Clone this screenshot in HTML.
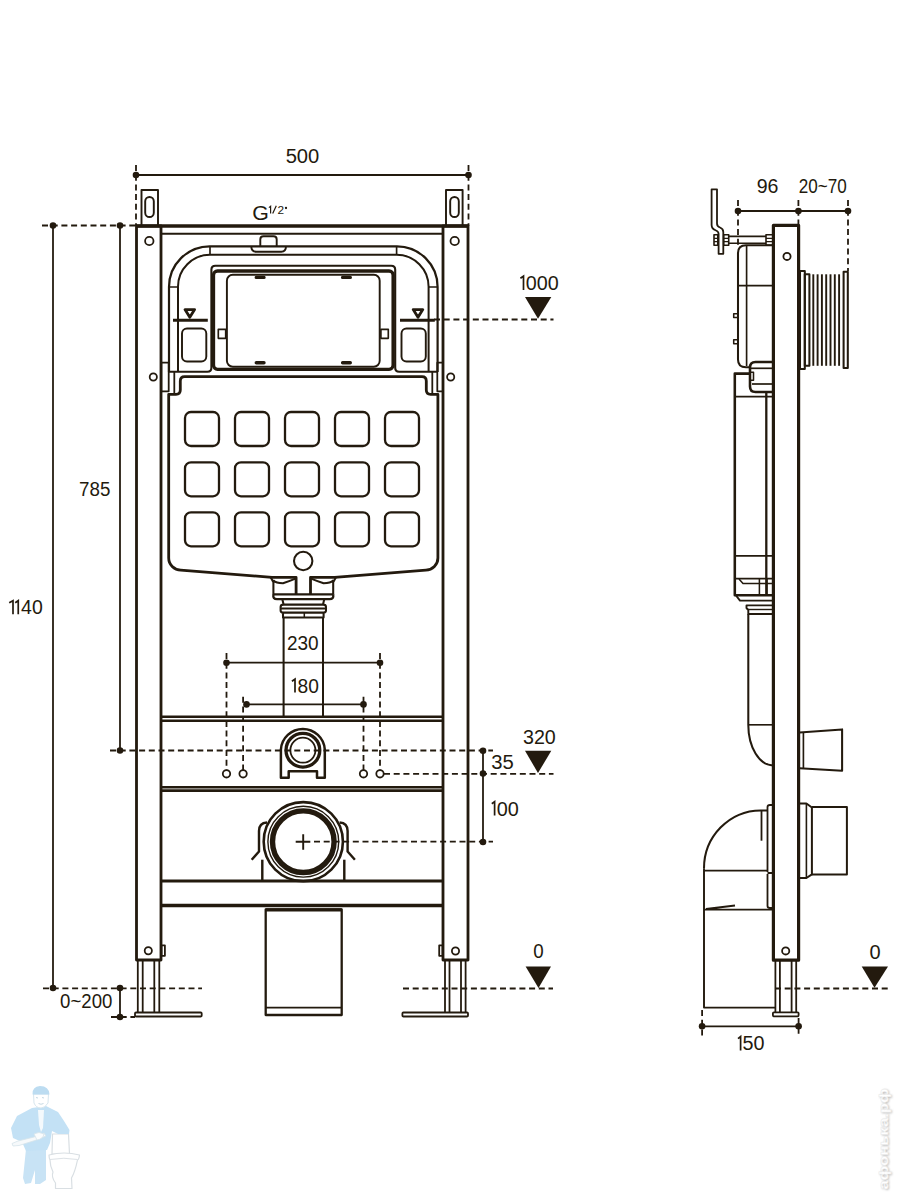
<!DOCTYPE html>
<html><head><meta charset="utf-8"><style>
html,body{margin:0;padding:0;background:#fff;width:900px;height:1200px;overflow:hidden}
svg{position:absolute;left:0;top:0;display:block}
text{font-family:"Liberation Sans",sans-serif;font-size:19.5px;fill:#231a0e;stroke:none}
.wm{position:absolute;left:872px;top:1088px;width:20px;height:100px}
</style></head><body>
<svg width="900" height="1200" viewBox="0 0 900 1200">
<g fill="none" stroke="#231a0e" stroke-width="1.79" stroke-linejoin="round">

<!-- ===== DIMENSIONS FRONT ===== -->
<g id="dims">
<line x1="136" y1="175" x2="468.5" y2="175"/>
<line x1="53" y1="225.5" x2="53" y2="988"/>
<line x1="120" y1="225.5" x2="120" y2="750.5"/>
<line x1="120" y1="988" x2="120" y2="1017"/>
<line x1="226.5" y1="662.7" x2="380" y2="662.7"/>
<line x1="246.5" y1="704.4" x2="363.5" y2="704.4"/>
<line x1="483" y1="750.8" x2="483" y2="842"/>
</g>
<g id="dashed" stroke-dasharray="6 3.7" stroke-width="1.8">
<line x1="136" y1="165" x2="136" y2="226"/>
<line x1="468.5" y1="165" x2="468.5" y2="226"/>
<line x1="42" y1="225.5" x2="136" y2="225.5"/>
<line x1="43" y1="988.4" x2="202" y2="988.4"/>
<line x1="110" y1="750.5" x2="493" y2="750.5"/>
<line x1="111" y1="1017" x2="135" y2="1017"/>
<line x1="434" y1="319.5" x2="553.5" y2="319.5"/>
<line x1="403" y1="988.5" x2="553" y2="988.5"/>
<line x1="384" y1="773.8" x2="553.5" y2="773.8"/>
<line x1="314" y1="841.7" x2="493" y2="841.7"/>
<line x1="226.5" y1="653" x2="226.5" y2="770"/>
<line x1="380" y1="653" x2="380" y2="770"/>
<line x1="243.1" y1="696.7" x2="243.1" y2="770"/>
<line x1="363.5" y1="696.7" x2="363.5" y2="770"/>
</g>
<g id="dots" fill="#231a0e" stroke="none">
<circle cx="136" cy="175" r="3.3"/><circle cx="468.5" cy="175" r="3.3"/>
<circle cx="53" cy="225.5" r="3.3"/><circle cx="53" cy="988" r="3.3"/>
<circle cx="120" cy="225.5" r="3.3"/><circle cx="120" cy="750.5" r="3.3"/>
<circle cx="120" cy="988" r="3.3"/><circle cx="120" cy="1017" r="3.3"/>
<circle cx="226.5" cy="662.7" r="3.3"/><circle cx="380" cy="662.7" r="3.3"/>
<circle cx="246.5" cy="704.4" r="3.3"/><circle cx="363.5" cy="704.4" r="3.3"/>
<circle cx="483" cy="750.8" r="3.3"/><circle cx="483" cy="773.5" r="3.3"/><circle cx="483" cy="842" r="3.3"/>
<path d="M525,297 H551.3 L538,318.7 Z"/>
<path d="M525,750.8 H551.3 L538,773 Z"/>
<path d="M525.6,966.4 H551 L538.5,988 Z"/>
</g>

<!-- ===== FRAME ===== -->
<g id="frame" stroke-width="2.82">
<rect x="136.5" y="226" width="24.5" height="734"/>
<rect x="443" y="226" width="25" height="734"/>
<line x1="136" y1="226" x2="468" y2="226" stroke-width="3.33"/>
<line x1="161" y1="233.7" x2="443" y2="233.7" stroke-width="2.05"/>
<rect x="141.5" y="190" width="16.5" height="36" stroke-width="1.92"/>
<rect x="145.2" y="197" width="8.6" height="20" rx="4.3" stroke-width="1.92"/>
<rect x="446" y="190" width="16.6" height="36" stroke-width="1.92"/>
<rect x="450.2" y="197" width="8.6" height="20" rx="4.3" stroke-width="1.92"/>
<g stroke-width="1.79">
<circle cx="149.3" cy="241" r="4.2"/><circle cx="454.7" cy="241" r="4.2"/>
<circle cx="153.3" cy="377" r="3.6"/><circle cx="450.7" cy="377" r="3.6"/>
<circle cx="148.3" cy="950.7" r="3.6"/><circle cx="455.5" cy="951" r="3.6"/>
<rect x="161.3" y="362.7" width="7.4" height="28.6"/>
<rect x="437.3" y="362.7" width="5.7" height="28.6"/>
<rect x="161.5" y="945.3" width="3.4" height="10.5"/>
<rect x="439.2" y="945.3" width="3.4" height="10.5"/>
</g>
<!-- rails -->
<line x1="161" y1="716.8" x2="443" y2="716.8" stroke-width="2.56"/>
<line x1="161" y1="720.7" x2="443" y2="720.7" stroke-width="2.56"/>
<line x1="161" y1="787.2" x2="443" y2="787.2" stroke-width="2.56"/>
<line x1="161" y1="790.6" x2="443" y2="790.6" stroke-width="2.56"/>
<line x1="161" y1="881" x2="443" y2="881" stroke-width="3.07"/>
<line x1="161" y1="905.5" x2="443" y2="905.5" stroke-width="3.33"/>
<!-- legs -->
<g stroke-width="1.79">
<line x1="137.8" y1="960" x2="137.8" y2="1012.5"/><line x1="142.7" y1="960" x2="142.7" y2="1012.5"/>
<line x1="154.3" y1="960" x2="154.3" y2="1012.5"/><line x1="159.3" y1="960" x2="159.3" y2="1012.5"/>
<rect x="135" y="1012.5" width="66.7" height="4" rx="1"/>
<line x1="445" y1="961" x2="445" y2="1012.5"/><line x1="449.5" y1="961" x2="449.5" y2="1012.5"/>
<line x1="461" y1="961" x2="461" y2="1012.5"/><line x1="465.6" y1="961" x2="465.6" y2="1012.5"/>
<rect x="402.4" y="1012.5" width="65.6" height="4" rx="1"/>
</g>
</g>

<!-- ===== TANK ===== -->
<g id="tankL">
<path d="M210,246 V254.7 M169,287 H178" stroke-width="1.66"/>
<path d="M256.3,277.4 H264 M256.3,362.8 H264" stroke-width="3.4" stroke-linecap="round"/>
<rect x="218.3" y="329.3" width="7.4" height="9" stroke-width="1.66"/>
<line x1="174.3" y1="371.7" x2="174.3" y2="394.3" stroke-width="1.79"/>
<path d="M270.8,577.4 L273.4,582.3 V594.3 M273.2,580.2 Q276,583.2 283,583.2 Q290,581 296.1,578.4" stroke-width="2.05"/>
<path d="M283.6,617.5 V716" stroke-width="2.05"/>
</g>
<g id="wlL">
<rect x="182" y="328.5" width="24.3" height="33" rx="5" stroke-width="1.92"/>
<line x1="173" y1="320.3" x2="207.8" y2="320.3" stroke-width="3"/>
<path d="M185,309.6 H194.6 L189.8,317.2 Z" stroke-width="2.8"/>
</g>
<use href="#wlL" transform="translate(607.8,0) scale(-1,1)"/>
<g id="tankC">
<path d="M169,372 V287 A40.7,40.7 0 0 1 210,246.3 H396.6 A40.7,40.7 0 0 1 437.6,287 V372" stroke-width="2.2"/>
<path d="M178,371.7 V287 A32,32 0 0 1 210,254.8 H396.6 A32,32 0 0 1 428.6,287 V371.7" stroke-width="2"/>
<path d="M169,371.7 H207.4 Q211.4,371.7 211.4,367.7 V269.7 Q211.4,265.7 215.4,265.7 H391.2 Q395.2,265.7 395.2,269.7 V367.7 Q395.2,371.7 399.2,371.7 H437.6" stroke-width="2.1"/>
<rect x="213.5" y="271" width="179.6" height="98.3" rx="4" stroke-width="3.3"/>
<rect x="226.9" y="274.8" width="152.8" height="91.9" rx="5.9" stroke-width="1.92"/>
<path d="M296.1,594.3 V577.4 H272 L180.7,570.1 A12,12 0 0 1 168.7,558.1 V394.3 H176 Q180.3,394.3 180.3,390 V381 Q180.3,376.6 184.6,376.6 H422 Q426.3,376.6 426.3,381 V390 Q426.3,394.3 430.6,394.3 H437.9 V558.1 A12,12 0 0 1 425.9,570.1 L334.6,577.4 H310.5 V594.3" stroke-width="2.8"/>
<path d="M273.4,594.3 H333.2 M273.4,594.3 Q272.6,599.2 277,599.2 H329.6 Q334,599.2 333.2,594.3" stroke-width="2.3"/>
<path d="M282.4,599.4 L283.6,604.6 H323 L324.2,599.4 M283.6,604.6 Q280.6,604.6 280.6,607 V610.5 Q280.6,612.6 283,612.6 H323.6 Q326,612.6 326,610.5 V607 Q326,604.6 323,604.6 M281,608.5 H325.6 M283,612.6 V617.5 H323.6 V612.6" stroke-width="2.05"/>
</g>
<use href="#tankL" transform="translate(606.6,0) scale(-1,1)"/>
<g stroke-width="2.3">
<rect x="185" y="412" width="34" height="34" rx="6"/>
<rect x="235" y="412" width="34" height="34" rx="6"/>
<rect x="285" y="412" width="34" height="34" rx="6"/>
<rect x="335" y="412" width="34" height="34" rx="6"/>
<rect x="385" y="412" width="34" height="34" rx="6"/>
<rect x="185" y="462.3" width="34" height="34" rx="6"/>
<rect x="235" y="462.3" width="34" height="34" rx="6"/>
<rect x="285" y="462.3" width="34" height="34" rx="6"/>
<rect x="335" y="462.3" width="34" height="34" rx="6"/>
<rect x="385" y="462.3" width="34" height="34" rx="6"/>
<rect x="185" y="512.3" width="34" height="34" rx="6"/>
<rect x="235" y="512.3" width="34" height="34" rx="6"/>
<rect x="285" y="512.3" width="34" height="34" rx="6"/>
<rect x="335" y="512.3" width="34" height="34" rx="6"/>
<rect x="385" y="512.3" width="34" height="34" rx="6"/>
</g>
<path d="M260.3,246.3 V239.5 Q260.3,236.3 263.5,236.3 H273.5 Q276.7,236.3 276.7,239.5 V246.3" stroke-width="1.92"/>
<path d="M251.3,246.3 Q251.3,251.7 256,251.7 H281.3 Q286,251.7 286,246.3" stroke-width="1.92"/>
<circle cx="303.2" cy="561" r="9.2" stroke-width="2.05"/>
<line x1="304.3" y1="612.6" x2="304.3" y2="617.5" stroke-width="1.54"/>

<!-- middle fitting -->
<path d="M280.9,749.5 A22,22 0 0 1 324.8,749.5 V777.8 H317 V771.3 H288.7 V777.8 H280.9 Z" stroke-width="2.5"/>
<circle cx="302.9" cy="750.2" r="16.9" stroke-width="3.3"/>
<circle cx="302.9" cy="750.2" r="12.5" stroke-width="1.8"/>
<g stroke-width="1.79">
<circle cx="226.5" cy="773.8" r="3.7"/><circle cx="243.1" cy="773.8" r="3.7"/>
<circle cx="363.5" cy="773.8" r="3.7"/><circle cx="380" cy="773.8" r="3.7"/>
</g>
<!-- big outlet -->
<circle cx="303.3" cy="841.7" r="39.6" stroke-width="2.6"/>
<circle cx="303.3" cy="841.7" r="35.4" stroke-width="1.4"/>
<circle cx="303.3" cy="841.7" r="30.8" stroke-width="5.4"/>
<path d="M295.7,841.7 H310.3 M303.2,834.3 V849.7" stroke-width="1.92"/>
<g id="clipL" stroke-width="1.92">
<path d="M251.7,859.7 L259,851.5 V831 Q259,823 267,822.5" stroke-width="2.43"/>
<path d="M262.3,859.7 V880.5" stroke-width="2.43"/>
</g>
<use href="#clipL" transform="translate(606.6,0) scale(-1,1)"/>
<!-- drain block -->
<path d="M265.7,1015 V909.5 H341.7 V1015 Z" stroke-width="2.3"/>
<line x1="265.7" y1="909.8" x2="341.7" y2="909.8" stroke-width="3.33"/>
<line x1="265.7" y1="1007.7" x2="341.7" y2="1007.7" stroke-width="1.79"/>

<!-- ===== SIDE VIEW ===== -->
<g id="side">
<line x1="738" y1="211" x2="848" y2="211"/>
<g stroke-dasharray="6 3.7">
<line x1="738" y1="200" x2="738" y2="246"/>
<line x1="798.4" y1="200" x2="798.4" y2="225"/>
<line x1="848" y1="200" x2="848" y2="271"/>
<line x1="775" y1="988.5" x2="891" y2="988.5"/>
<line x1="702.1" y1="1010" x2="702.1" y2="1036"/>
<line x1="798.6" y1="1018" x2="798.6" y2="1036"/>
</g>
<line x1="702.1" y1="1026.3" x2="798.6" y2="1026.3"/>
<g fill="#231a0e" stroke="none">
<circle cx="738" cy="211" r="3.3"/><circle cx="798.4" cy="211" r="3.3"/><circle cx="848" cy="211" r="3.3"/>
<circle cx="702.1" cy="1026.3" r="3.3"/><circle cx="798.6" cy="1026.3" r="3.3"/>
<path d="M861.7,966.4 H888 L874.5,987.8 Z"/>
</g>
<!-- frame -->
<rect x="773.4" y="225.3" width="25.2" height="734.9" stroke-width="3.2"/>
<circle cx="787" cy="256.4" r="3.6"/>
<circle cx="785.7" cy="950.9" r="3.6"/>
<!-- legs -->
<line x1="775.4" y1="960" x2="775.4" y2="1012.3"/><line x1="779.9" y1="960" x2="779.9" y2="1012.3"/>
<line x1="791.6" y1="960" x2="791.6" y2="1012.3"/><line x1="796.2" y1="960" x2="796.2" y2="1012.3"/>
<rect x="772.9" y="1012.3" width="25.7" height="4" rx="1"/>
<!-- wall bracket -->
<path d="M711.6,189.3 H717 V223.5 Q717,226.5 720,227.5 Q723.3,228.8 723.3,232 V253.8 H718.6 V234 Q718.6,231.5 716,230.5 Q711.6,229 711.6,225 Z" stroke-width="1.8"/>
<rect x="714" y="234.8" width="3.8" height="10.4" stroke-width="1.6"/>
<rect x="723.7" y="234.8" width="5" height="10.4" stroke-width="1.6"/>
<path d="M728.7,236.4 H766 M728.7,243.3 H766" stroke-width="1.6"/>
<rect x="766" y="234.8" width="6.8" height="10.4" stroke-width="1.6"/>
<path d="M714,238.3 H717.8 M714,241.7 H717.8 M723.7,238.3 H728.7 M723.7,241.7 H728.7 M766,238.3 H772.8 M766,241.7 H772.8" stroke-width="1.2"/>
<!-- cistern upper -->
<path d="M773,245.2 H746 Q738,245.2 738,253 V359.5 Q738,367.3 746,367.3 H750" stroke-width="2.05"/>
<line x1="746.6" y1="245.2" x2="746.6" y2="366" stroke-width="1.66"/>
<line x1="738" y1="285.7" x2="773" y2="285.7" stroke-width="1.66"/>
<rect x="733.7" y="313.7" width="4.3" height="3.8" stroke-width="1.54"/>
<rect x="733.7" y="339.8" width="4.3" height="4" stroke-width="1.54"/>
<!-- small piece -->
<path d="M773,362 H755.5 Q750,362 750,367.5 V386.5 Q750,392 755.5,392 H773" stroke-width="2.56"/>
<rect x="750" y="372.3" width="3.5" height="8" stroke-width="1.54"/>
<line x1="750" y1="368.3" x2="773" y2="368.3" stroke-width="1.7"/>
<line x1="752" y1="384" x2="773" y2="384" stroke-width="1.7"/>
<!-- lower body -->
<path d="M750,373.6 H734.8 V595.3 H773" stroke-width="2.56"/>
<line x1="766.3" y1="392" x2="766.3" y2="595" stroke-width="2.3"/>
<line x1="735" y1="396.7" x2="773" y2="396.7" stroke-width="1.66"/>
<line x1="735" y1="555.9" x2="773" y2="555.9" stroke-width="1.66"/>
<line x1="735" y1="578.6" x2="773" y2="578.6" stroke-width="1.66"/>
<path d="M739,579 L743,583.4 H773" stroke-width="1.54"/>
<line x1="759.4" y1="578.6" x2="759.4" y2="595" stroke-width="1.54"/>
<line x1="767" y1="578.6" x2="767" y2="595" stroke-width="1.54"/>
<path d="M736,595.5 L740,600.6 H773" stroke-width="1.92"/>
<!-- pipe -->
<path d="M773,605.4 H746.5 V608 L748.3,610 V614 H773" stroke-width="1.92"/>
<line x1="748.3" y1="609.5" x2="773" y2="609.5" stroke-width="1.41"/>
<path d="M748.3,614 V724.8 A24.7,40.6 0 0 0 773,765.4" stroke-width="2.05"/>
<line x1="748.3" y1="724.8" x2="773" y2="724.8" stroke-width="1.66"/>
<!-- ribbed cylinder -->
<rect x="800" y="271" width="4.8" height="98" stroke-width="2.05"/>
<rect x="804.8" y="274.3" width="4.6" height="91.5" stroke-width="2.05"/>
<g stroke-width="1.92">
<line x1="813.3" y1="274.3" x2="813.3" y2="365.8"/>
<line x1="817.6" y1="274.3" x2="817.6" y2="365.8"/>
<line x1="821.9" y1="274.3" x2="821.9" y2="365.8"/>
<line x1="826.2" y1="274.3" x2="826.2" y2="365.8"/>
<line x1="830.5" y1="274.3" x2="830.5" y2="365.8"/>
<line x1="834.8" y1="274.3" x2="834.8" y2="365.8"/>
<line x1="839.1" y1="274.3" x2="839.1" y2="365.8"/>
</g>
<rect x="843.6" y="271.7" width="4.2" height="96.3" stroke-width="2.05"/>
<!-- stub -->
<path d="M799.6,732.5 L842.1,729.4 V770.8 L799.6,768.3" stroke-width="2.05"/>
<line x1="803.4" y1="732.2" x2="803.4" y2="768.5" stroke-width="1.66"/>
<!-- lower right outlet -->
<path d="M798.6,803.5 H806.4 L811.9,807.5 V874.3 L806.4,878 H798.6" stroke-width="2"/>
<path d="M811.9,806.9 H846.9 V874.6 H811.9" stroke-width="2"/>
<line x1="806.4" y1="803.5" x2="806.4" y2="878" stroke-width="1.6"/>
<!-- elbow -->
<path d="M704,868.7 A57,58 0 0 1 760.8,810.4 H767.5" stroke-width="2.05"/>
<path d="M761.5,810.4 V840.7" stroke-width="1.8"/>
<path d="M767.5,807 V872 M767.5,874 V906 Q767.5,908 770,908 H773 M767.5,807 Q767.5,805 770,805 H773 M767.5,873 H773" stroke-width="1.8"/>
<path d="M704,868.7 V1007.6 H775.2 M704,870.6 H767.5 M704,909.6 H773 M706,909 L735,905.5" stroke-width="1.92"/>
</g>

</g>
<g id="texts">
<text x="285.65" y="163.40" textLength="33.70" lengthAdjust="spacingAndGlyphs">500</text>
<text x="79.11" y="496.40" textLength="31.28" lengthAdjust="spacingAndGlyphs">785</text>
<text x="60.11" y="1008.20" textLength="52.34" lengthAdjust="spacingAndGlyphs">0~200</text>
<text x="286.90" y="650.40" textLength="31.70" lengthAdjust="spacingAndGlyphs">230</text>
<text x="522.97" y="744.10" textLength="32.86" lengthAdjust="spacingAndGlyphs">320</text>
<text x="491.25" y="769.10" textLength="22.53" lengthAdjust="spacingAndGlyphs">35</text>
<text x="533.31" y="958.00" textLength="10.45" lengthAdjust="spacingAndGlyphs">0</text>
<text x="756.67" y="192.90" textLength="21.79" lengthAdjust="spacingAndGlyphs">96</text>
<text x="798.70" y="192.90" textLength="47.99" lengthAdjust="spacingAndGlyphs">20~70</text>
<text x="869.46" y="959.00" textLength="11.15" lengthAdjust="spacingAndGlyphs">0</text>
<text x="21.09" y="614.15" textLength="21.66" lengthAdjust="spacingAndGlyphs">40</text>
<text x="525.77" y="289.80" textLength="32.96" lengthAdjust="spacingAndGlyphs">000</text>
<text x="297.49" y="692.50" textLength="21.35" lengthAdjust="spacingAndGlyphs">80</text>
<text x="496.67" y="815.50" textLength="22.10" lengthAdjust="spacingAndGlyphs">00</text>
<text x="742.57" y="1050.30" textLength="22.00" lengthAdjust="spacingAndGlyphs">50</text>
<text x="252.2" y="220" style="font-size:19.5px" textLength="16.6" lengthAdjust="spacingAndGlyphs">G</text>
<text x="277.4" y="214.1" style="font-size:11px" textLength="6.6" lengthAdjust="spacingAndGlyphs">2</text>
<circle cx="286" cy="208" r="1.15" style="fill:#231a0e"/>
</g>
<g id="ones" fill="none" stroke="#231a0e" stroke-width="1.7" stroke-linejoin="miter">
<path d="M268.9,207.6 L270.6,206.2 V213.6 M276.3,205.8 L272.7,213.6" stroke-width="1.2"/>
<path d="M9.20,602.80 L13.00,600.70 V614.25"/>
<path d="M15.20,602.80 L18.25,600.70 V614.25"/>
<path d="M520.40,278.30 L523.50,276.20 V289.90"/>
<path d="M291.90,681.30 L295.00,679.20 V692.60"/>
<path d="M491.80,803.70 L494.60,801.60 V815.60"/>
<path d="M738.00,1038.70 L740.60,1036.60 V1050.40"/>
</g>


<!-- ===== LOGO ===== -->
<g id="logo" stroke-linejoin="round">
<!-- toilet -->
<path d="M52.5,1134 H68.5 L69.5,1154 H52 Z" fill="#fff" stroke="#d9dfe3" stroke-width="1.2"/>
<path d="M49,1155 Q64,1151 79.5,1155 Q79,1159.5 77.5,1160 Q75,1172 71.5,1178 L72,1188.5 H55.5 L55.5,1183 Q51,1177 53,1172 Q50,1166 50,1160 Q49,1158 49,1155 Z" fill="#fff" stroke="#d9dfe3" stroke-width="1.2"/>
<path d="M50,1159.5 Q64,1157 77.5,1159.5" fill="none" stroke="#dde2e6" stroke-width="1"/>
<!-- legs -->
<path d="M26,1149 L46,1149 L46,1180 L40,1184 L35,1184 L35,1170 L31,1183 L25,1184 L23,1178 Z" fill="#c8e3f5"/>
<!-- jacket -->
<path d="M32,1108 L46,1106 L58,1112 L64,1121 L69.5,1130 L69,1134 L58,1134 L52,1131 L50,1143 L47,1150 L26,1151 L22,1142 L13,1138 L11,1128 L17,1116 Z" fill="#c3e1f5"/>
<path d="M38,1110 L44,1110 L43,1128 L41,1132 L39,1125 Z" fill="#f4f9fc"/>
<!-- wrench -->
<path d="M12,1143.5 L18,1141 L34,1137 L44,1133 L46,1136 L35,1140.5 L19,1145.5 L13,1146 Z" fill="#f6f9fb" stroke="#d6e3ea" stroke-width="0.8"/>
<path d="M34,1134 Q39,1131 44,1134 Q43,1139 37,1140 Z" fill="#fafcfd" stroke="#d6e3ea" stroke-width="0.8"/>
<!-- head -->
<path d="M33.5,1094 L48.5,1094 L48,1103 Q45,1108 41,1108 Q36,1108 34,1103 Z" fill="#fff" stroke="#d7e6ee" stroke-width="1"/>
<path d="M32.5,1094.5 Q32,1086.5 40,1086 Q49,1086 49.5,1094.5 Z" fill="#bcdcf1"/>
<path d="M36,1097.5 L38,1098 M42,1097.5 L44,1098 M38.5,1103.5 Q41,1105 43.5,1103.5" fill="none" stroke="#b9cfdc" stroke-width="0.8"/>
</g>
<defs><filter id="wsh" x="-30%" y="-30%" width="160%" height="160%"><feGaussianBlur stdDeviation="1.1"/></filter></defs>
<g id="wm">
<text transform="translate(889,1190.2) rotate(-90)" style="font-size:13px;font-weight:bold;fill:#a8a8a8;stroke:none" filter="url(#wsh)" textLength="101" lengthAdjust="spacingAndGlyphs">афонька.рф</text>
<text transform="translate(887.5,1189.5) rotate(-90)" style="font-size:13px;font-weight:bold;fill:#fff;stroke:#ececec;stroke-width:0.5px" textLength="101" lengthAdjust="spacingAndGlyphs">афонька.рф</text>
</g>
</svg>
</body></html>
